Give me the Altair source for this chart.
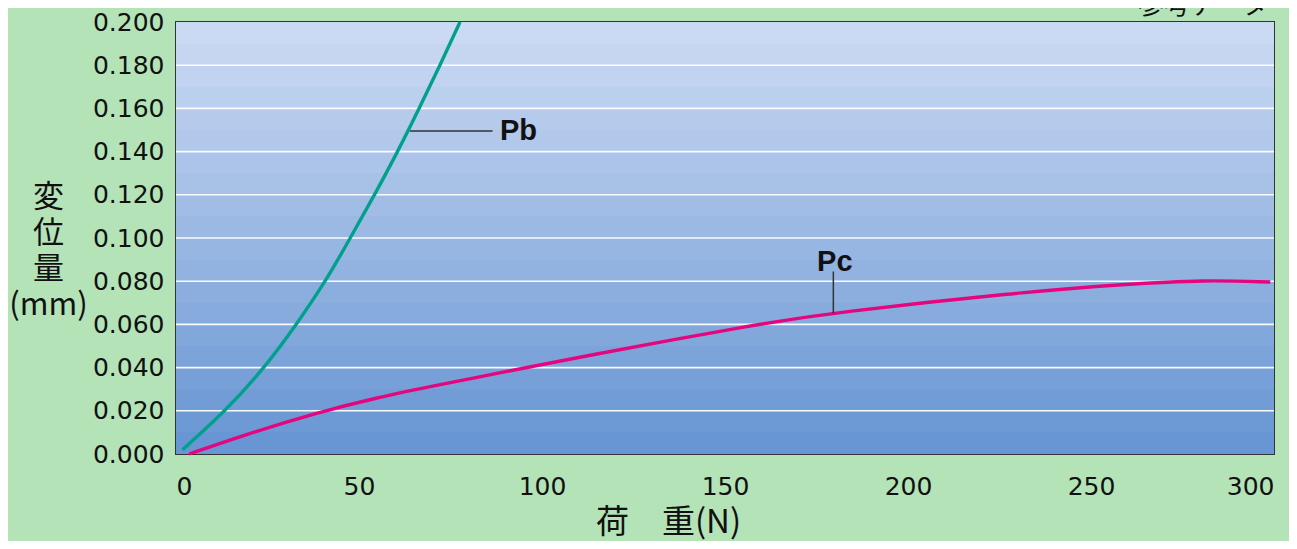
import altair as alt
import pandas as pd

# ---- data ----
pb_load = [1.8, 13.2, 23.9, 32.8, 40.7, 47.6, 54.2, 60.5, 66.4, 72.1, 77.6]
pb_disp = [0.002, 0.020, 0.040, 0.060, 0.080, 0.100, 0.120, 0.140, 0.160, 0.180, 0.200]

pc_load = [3.6, 18.2, 38.3, 54.6, 71.2, 95.8, 108.5, 160, 179.6, 229.5, 260, 281, 299]
pc_disp = [0.000, 0.0086, 0.0190, 0.0260, 0.0318, 0.0400, 0.0443, 0.0605, 0.0654,
           0.0747, 0.0787, 0.0806, 0.0796]

x_ticks = [0, 50, 100, 150, 200, 250, 300]
y_ticks = [0.000, 0.020, 0.040, 0.060, 0.080, 0.100, 0.120, 0.140, 0.160, 0.180, 0.200]
grid_vals = y_ticks[1:-1]

labels = ["Pb", "Pc"]
label_x = [88.5, 180]
label_y = [0.1495, 0.0888]
leader_x = [63.9, 179.6]
leader_x2 = [86.5, 179.6]
leader_y = [0.1495, 0.0652]
leader_y2 = [0.1495, 0.0845]

TEAL = "#00a08d"
MAGENTA = "#e4067f"
FONT = "DejaVu Sans"
CJK = "Noto Sans CJK JP"

xs = alt.Scale(domain=[0, 300], nice=False)
ys = alt.Scale(domain=[0, 0.2], nice=False)

xaxis = alt.Axis(values=x_ticks, title="荷　重(N)", grid=False, ticks=False, domain=False,
                 labelFontSize=25, labelFont=FONT, labelColor="#111", labelPadding=20,
                 titleFontSize=33, titleFont=CJK, titleFontWeight="normal",
                 titleColor="#111", titleX=492, titleY=52, titleBaseline="top", titleAlign="center")
yaxis = alt.Axis(values=y_ticks, format=".3f", title=["変", "位", "量", "(mm)"], grid=False,
                 ticks=False, domain=False, labelFontSize=25, labelFont=FONT, labelColor="#111",
                 labelPadding=12, titleFontSize=31, titleFont=CJK,
                 titleFontWeight="normal", titleColor="#111", titleAngle=0, titleAlign="center",
                 titleBaseline="top", titleX=-128, titleY=160, titleLineHeight=36)

# stepped vertical gradient (banded look of the reference)
top_rgb = (203, 218, 243)
bot_rgb = (104, 149, 211)
n_bands = 20
stops = []
for i in range(n_bands):
    t = i / (n_bands - 1)
    c = tuple(round(top_rgb[k] + (bot_rgb[k] - top_rgb[k]) * t) for k in range(3))
    hexc = "#%02x%02x%02x" % c
    stops.append(alt.GradientStop(color=hexc, offset=i / n_bands))
    stops.append(alt.GradientStop(color=hexc, offset=(i + 1) / n_bands))
gradient = alt.Gradient(gradient="linear", stops=stops, x1=0, x2=0, y1=0, y2=1)

bg = pd.DataFrame({"x": [0], "x2": [300], "y": [0], "y2": [0.2]})
rect = alt.Chart(bg).mark_rect(color=gradient).encode(
    x=alt.X("x:Q", scale=xs, axis=xaxis), x2="x2", y=alt.Y("y:Q", scale=ys, axis=yaxis), y2="y2"
)

grid = alt.Chart(pd.DataFrame({"g": grid_vals})).mark_rule(color="white", strokeWidth=1.6, opacity=0.95).encode(
    y=alt.Y("g:Q", scale=ys)
)

pb_df = pd.DataFrame({"load": pb_load, "disp": pb_disp})
pc_df = pd.DataFrame({"load": pc_load, "disp": pc_disp})

pb_line = alt.Chart(pb_df).mark_line(color=TEAL, strokeWidth=3.4, interpolate="natural").encode(
    x=alt.X("load:Q", scale=xs), y=alt.Y("disp:Q", scale=ys)
)
pc_line = alt.Chart(pc_df).mark_line(color=MAGENTA, strokeWidth=3.4, interpolate="basis").encode(
    x=alt.X("load:Q", scale=xs), y=alt.Y("disp:Q", scale=ys)
)

ann = pd.DataFrame({"label": labels, "lx": label_x, "ly": label_y,
                    "rx": leader_x, "rx2": leader_x2, "ry": leader_y, "ry2": leader_y2})
leaders = alt.Chart(ann).mark_rule(color="#333", strokeWidth=1.5).encode(
    x=alt.X("rx:Q", scale=xs), x2="rx2", y=alt.Y("ry:Q", scale=ys), y2="ry2"
)
txt_pb = alt.Chart(ann[ann.label == "Pb"]).mark_text(
    align="left", baseline="middle", fontSize=29, font="Liberation Sans", fontWeight="bold", color="#111"
).encode(x=alt.X("lx:Q", scale=xs), y=alt.Y("ly:Q", scale=ys), text="label:N")
txt_pc = alt.Chart(ann[ann.label == "Pc"]).mark_text(
    align="center", baseline="middle", fontSize=29, font="Liberation Sans", fontWeight="bold", color="#111"
).encode(x=alt.X("lx:Q", scale=xs), y=alt.Y("ly:Q", scale=ys), text="label:N")

chart = alt.layer(rect, grid, pb_line, pc_line, leaders, txt_pb, txt_pc).properties(
    width=1098, height=432,
    title=alt.TitleParams("参考データ", anchor="end", fontSize=26, font=CJK,
                          fontWeight="normal", color="#111", baseline="middle", dx=-9, offset=0, dy=22),
    autosize=alt.AutoSizeParams(type="none"),
    padding={"left": 168, "top": 14, "right": 15, "bottom": 87},
    background="#b4e3b7",
).configure_view(stroke="#333", strokeWidth=2)

chart.save("out.html", embed_options={"renderer": "svg", "actions": False})
